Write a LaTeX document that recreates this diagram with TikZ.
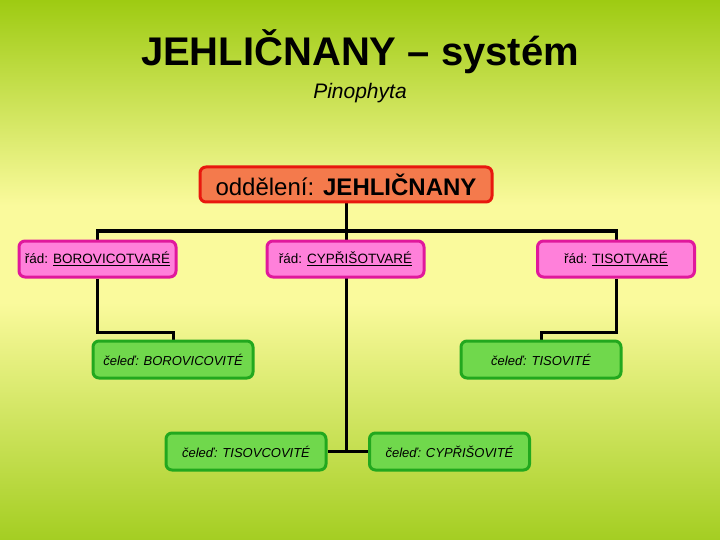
\documentclass[tikz,border=0pt]{standalone}
\usepackage{fontspec}
\setmainfont{Liberation Sans}
\usetikzlibrary{backgrounds}
\definecolor{bgtop}{HTML}{9ECB12}
\definecolor{bgyel}{HTML}{FAFA9C}
\definecolor{bgbot}{HTML}{A4CE22}
\definecolor{pinkfill}{HTML}{FF80DA}
\definecolor{pinkline}{HTML}{E0189C}
\definecolor{greenfill}{HTML}{70D84C}
\definecolor{greenline}{HTML}{22A81E}
\definecolor{orfill}{HTML}{F47A4C}
\definecolor{orline}{HTML}{E8180E}
\pgfdeclareverticalshading{bgshade}{100bp}{color(0bp)=(bgbot); color(25bp)=(bgbot); color(47bp)=(bgyel); color(56bp)=(bgyel); color(75bp)=(bgtop); color(100bp)=(bgtop)}
\tikzset{
  box/.style={draw, line width=3pt, rounded corners=6pt, inner sep=0pt, align=center},
  topbox/.style={box, fill=orfill, draw=orline, minimum width=292pt, minimum height=35pt, font=\fontsize{24}{27}\selectfont},
  pinkbox/.style={box, fill=pinkfill, draw=pinkline, minimum width=157pt, minimum height=36pt, font=\fontsize{13.5}{16}\selectfont},
  greenbox/.style={box, fill=greenfill, draw=greenline, minimum width=160pt, minimum height=37pt, font=\fontsize{13}{16}\selectfont\itshape},
  conn/.style={line width=3pt, black}
}
\begin{document}
\begin{tikzpicture}[x=1pt,y=-1pt]
\useasboundingbox (0,0) rectangle (720,540);
\node (title) at (360,52) {\fontsize{40}{44}\selectfont\bfseries JEHLIČNANY – systém};
\node (sub) at (360,93) {\fontsize{21}{24}\selectfont\itshape Pinophyta};
\node[topbox] (top) at (346,184.5) {oddělení: \textbf{JEHLIČNANY}};
\node[pinkbox] (p1) at (97.5,259) {řád: \underline{BOROVICOTVARÉ}};
\node[pinkbox] (p2) at (345.5,259) {řád: \underline{CYPŘIŠOTVARÉ}};
\node[pinkbox] (p3) at (616,259) {řád: \underline{TISOTVARÉ}};
\node[greenbox] (g1) at (173,359.5) {čeleď: BOROVICOVITÉ};
\node[greenbox] (g2) at (541,359.5) {čeleď: TISOVITÉ};
\node[greenbox] (g3) at (246,451.5) {čeleď: TISOVCOVITÉ};
\node[greenbox] (g4) at (449.5,451.5) {čeleď: CYPŘIŠOVITÉ};
\coordinate (hb) at (346,231);
\begin{scope}[on background layer]
\fill[shading=bgshade] (0,0) rectangle (720,540);
\draw[conn] (top.south) -- (top.south |- g3.east);
\draw[conn] (g3.east) -- (g4.west);
\draw[conn] (p1.north) |- (hb) -| (p3.north);
\draw[conn] (p1.south) -- ++(0,54) -| (g1.north);
\draw[conn] (p3.south) -- ++(0,54) -| (g2.north);
\end{scope}
\end{tikzpicture}
\end{document}
